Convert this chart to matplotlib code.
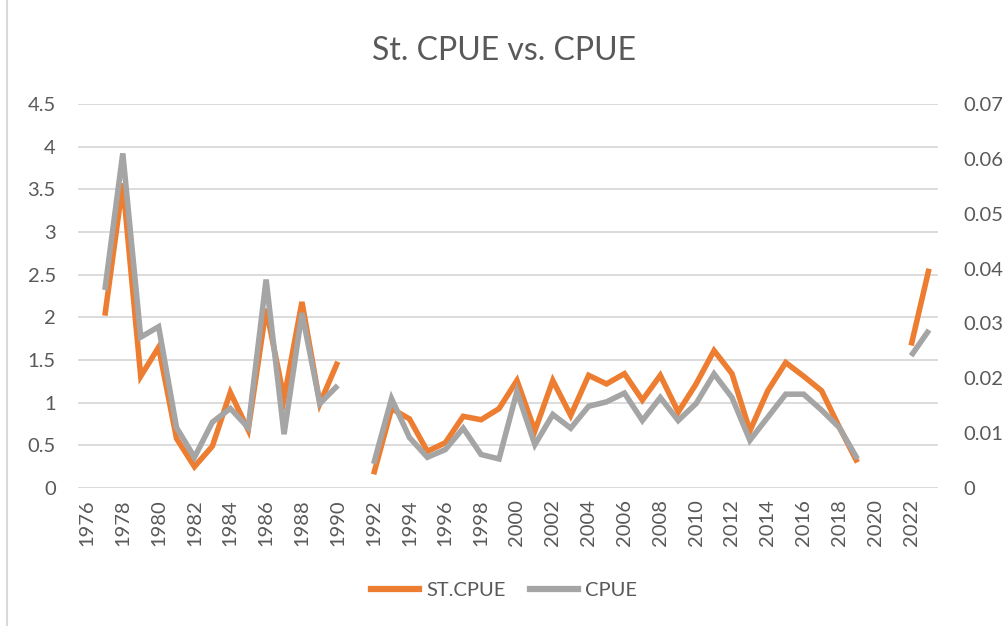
import numpy as np
import matplotlib.pyplot as plt
from matplotlib.lines import Line2D

plt.rcParams['font.family'] = ['Lato', 'DejaVu Sans']

years = list(range(1976, 2024))
nan = np.nan

# ST.CPUE (left axis)
st_cpue = [nan, 2.02, 3.57, 1.31, 1.65, 0.58, 0.25, 0.49, 1.12, 0.68,
           2.10, 1.05, 2.18, 0.99, 1.48, nan, 0.16, 0.93, 0.81, 0.43,
           0.53, 0.84, 0.80, 0.93, 1.26, 0.67, 1.26, 0.85, 1.32, 1.22,
           1.34, 1.03, 1.32, 0.89, 1.22, 1.61, 1.34, 0.67, 1.14, 1.47,
           1.31, 1.14, 0.71, 0.30, nan, nan, 1.67, 2.57]

# CPUE (right axis)
cpue = [nan, 0.0361, 0.0610, 0.0275, 0.0294, 0.0110, 0.0056, 0.0120, 0.0145, 0.0110,
        0.0380, 0.0098, 0.0319, 0.0154, 0.0187, nan, 0.0044, 0.0163, 0.0092, 0.0056,
        0.0070, 0.0109, 0.0061, 0.0053, 0.0176, 0.0079, 0.0134, 0.0109, 0.0149, 0.0157,
        0.0173, 0.0123, 0.0165, 0.0123, 0.0154, 0.0208, 0.0165, 0.0087, 0.0129, 0.0171,
        0.0171, 0.0142, 0.0110, 0.0053, nan, nan, 0.0241, 0.0288]

orange = '#ED7D31'
gray = '#A5A5A5'
txt = '#595959'

fig = plt.figure(figsize=(10.08, 6.26), dpi=100)
ax = fig.add_axes([78 / 1008, 138 / 626, 860 / 1008, 384 / 626])
ax2 = ax.twinx()

ax.plot(years, st_cpue, color=orange, lw=4.0, solid_joinstyle='miter', solid_capstyle='butt')
ax2.plot(years, cpue, color=gray, lw=4.0, solid_joinstyle='miter', solid_capstyle='butt')

ax.set_xlim(1975.5, 2023.5)
ax.set_ylim(0, 4.5)
ax2.set_ylim(0, 0.07)
ax.set_yticks(np.arange(0, 4.51, 0.5))
ax.set_yticklabels(['0', '0.5', '1', '1.5', '2', '2.5', '3', '3.5', '4', '4.5'])
ax2.set_yticks(np.arange(0, 0.0701, 0.01))
ax2.set_yticklabels(['0', '0.01', '0.02', '0.03', '0.04', '0.05', '0.06', '0.07'])
ax.set_xticks(years[::2])
ax.set_xticklabels([str(y) for y in years[::2]], rotation=90)

ax.grid(axis='y', color='#D9D9D9', lw=1.3)
ax.set_axisbelow(True)
for a in (ax, ax2):
    for s in a.spines.values():
        s.set_visible(False)
ax.tick_params(axis='both', length=0, colors=txt, labelsize=14.5)
ax.tick_params(axis='y', pad=16)
ax.tick_params(axis='x', pad=8)
ax2.tick_params(axis='y', length=0, colors=txt, labelsize=14.5, pad=18)

fig.text(0.5, 0.918, 'St. CPUE vs. CPUE', ha='center', va='center', fontsize=23, color=txt)

handles = [Line2D([], [], color=orange, lw=4.5), Line2D([], [], color=gray, lw=4.5)]
fig.legend(handles, ['ST.CPUE', 'CPUE'], loc='center', bbox_to_anchor=(0.5, 0.056),
           ncol=2, frameon=False, fontsize=14.5, labelcolor=txt, handlelength=2.4,
           handletextpad=0.35, columnspacing=1.2)

fig.add_artist(Line2D([7 / 1008, 7 / 1008], [0, 1], color='#D9D9D9', lw=1.5))

fig.savefig('out.png', dpi=100)
